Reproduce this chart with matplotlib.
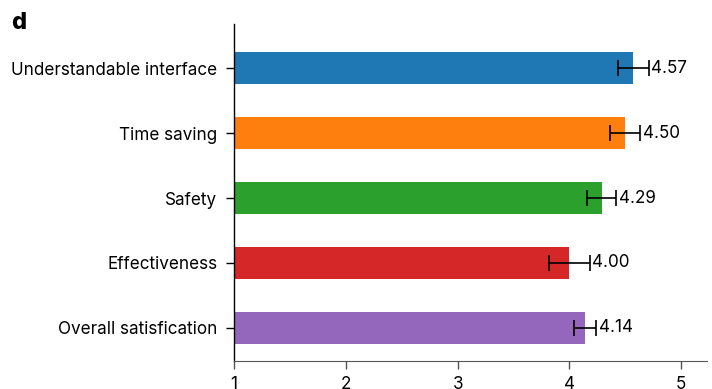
import matplotlib
matplotlib.use("Agg")
import matplotlib.pyplot as plt

plt.rcParams['font.family'] = ['Inter', 'DejaVu Sans']

categories = ["Overall satisfication", "Effectiveness", "Safety",
              "Time saving", "Understandable interface"]
means = [4.14, 4.00, 4.29, 4.50, 4.57]
errors = [0.10, 0.18, 0.13, 0.135, 0.14]
colors = ["#9467bd", "#d62728", "#2ca02c", "#ff7f0e", "#1f77b4"]
xticks = [1, 2, 3, 4, 5]

fig = plt.figure(figsize=(7.12, 3.89), dpi=100)
ax = fig.add_axes([0.3287, 0.072, 0.993 - 0.3287, 0.938 - 0.072])

ypos = list(range(len(categories)))
ax.barh(ypos, [m - 1 for m in means], left=1, height=0.5, color=colors,
        xerr=errors, error_kw=dict(ecolor="black", elinewidth=1.2,
                                   capsize=5.8, capthick=1.2))

for y, m, e in zip(ypos, means, errors):
    ax.text(m + e + 0.02, y, f"{m:.2f}", va="center", ha="left", fontsize=12.3)

ax.set_xlim(1, 5.23)
ax.set_ylim(-0.51, 4.68)
ax.set_xticks(xticks)
ax.set_xticklabels([str(t) for t in xticks], fontsize=12.3)
ax.set_yticks(ypos)
ax.set_yticklabels(categories, fontsize=12.3)
ax.tick_params(axis="y", length=6, width=1, pad=6)
ax.tick_params(axis="x", length=6, width=1, pad=4.5, color="#555555")
ax.spines["top"].set_visible(False)
ax.spines["right"].set_visible(False)
ax.spines["bottom"].set_color("#555555")
ax.spines["left"].set_linewidth(1)

fig.text(0.016, 0.94, "d", fontsize=17, fontweight="heavy", va="center")

fig.savefig("out.png", dpi=100)
